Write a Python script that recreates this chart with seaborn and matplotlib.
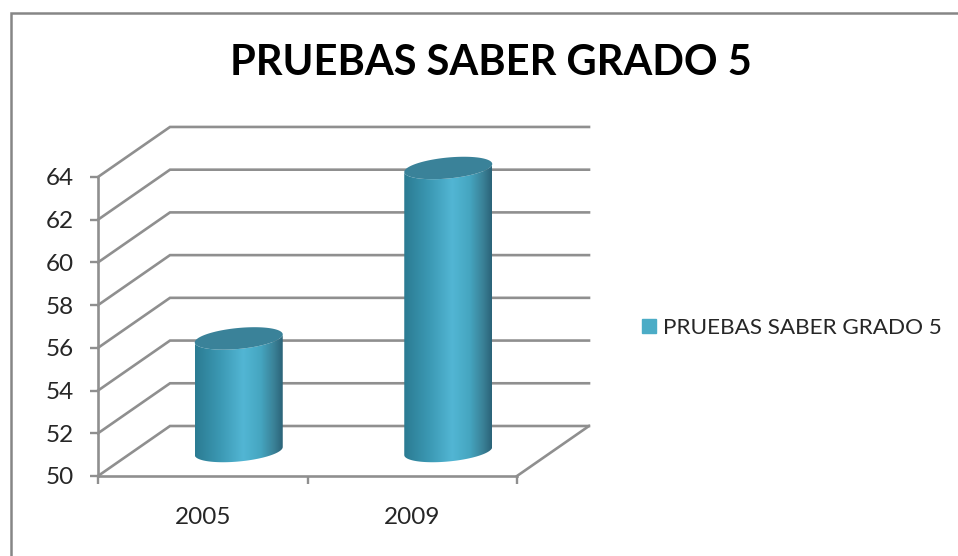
import matplotlib
matplotlib.use('Agg')
import matplotlib.pyplot as plt
import numpy as np
import pandas as pd
import seaborn as sns
from matplotlib.colors import LinearSegmentedColormap
from matplotlib.lines import Line2D
from matplotlib.patches import Patch, PathPatch
from matplotlib.path import Path

TITLE = 'PRUEBAS SABER GRADO 5'
years = ['2005', '2009']
scores = [55.27, 63.25]
y_ticks = [50, 52, 54, 56, 58, 60, 62, 64]

GRID = '#8f8f8f'
TEXT = '#262626'
BAR = '#4bacc6'
TOP = '#3a8299'
shade = LinearSegmentedColormap.from_list('cyl', [
    (0.0, '#2b7b92'), (0.3, '#3c9ab5'), (0.55, '#52b6d4'),
    (0.75, '#45a5c0'), (0.9, '#3a8197'), (1.0, '#2b6378')])

W, H = 958, 556
plt.rcParams['font.family'] = ['Lato', 'DejaVu Sans']

fig = plt.figure(figsize=(W / 100, H / 100), dpi=100)
# plot box in pixels: front corner (98, 476), back wall up to y=127, right to x=590
ax = fig.add_axes([98 / W, 1 - 476 / H, (590 - 98) / W, (476 - 127) / H])
ax.patch.set_alpha(0)

# 3d look: back wall is shifted by this much in data units
dx = 72 / 209.5
dy = 50 / 21.36

df = pd.DataFrame({'year': years, 'score': scores})
sns.barplot(data=df, x='year', y='score', width=0.42, ax=ax, color=BAR)

x0, x1 = -0.5, 1.5
ax.set_xlim(x0, x1 + 73 / 209.5)
ax.set_ylim(50, 50 + 349 / 21.36)

# walls and floor
for v in y_ticks:
    ax.plot([x0, x0 + dx, x1 + dx], [v, v + dy, v + dy], color=GRID, lw=1.9,
            zorder=1, solid_joinstyle='miter', clip_on=False)
ax.plot([x1, x1 + dx], [50, 50 + dy], color=GRID, lw=1.9, zorder=1)

# turn the flat bars into cylinders
grad = shade(np.linspace(0, 1, 256)).reshape(1, 256, 4)
t = np.linspace(0, 2 * np.pi, 120)
for bar in list(ax.patches):
    bar.set_visible(False)
    left, w, value = bar.get_x(), bar.get_width(), bar.get_height()
    cx = left + w / 2 + dx / 2
    base = 50 + dy / 2
    top = value + dy / 2
    rx = w / 2
    tilt = 4 / 21.36
    ry = 10.5 / 21.36
    # side: front half of base ellipse, back along the top ellipse
    t_front = np.linspace(np.pi, 2 * np.pi, 60)
    xs = cx + rx * np.cos(t_front)
    ys = base + tilt * np.cos(t_front) + ry * np.sin(t_front)
    xt = cx + rx * np.cos(t_front[::-1])
    yt = top + tilt * np.cos(t_front[::-1]) + ry * np.sin(t_front[::-1])
    side = Path(np.column_stack([np.r_[xs, xt, xs[0]], np.r_[ys, yt, ys[0]]]), closed=True)
    im = ax.imshow(grad, extent=[cx - rx, cx + rx, 40, 70], aspect='auto', zorder=3,
                   interpolation='bilinear')
    im.set_clip_path(PathPatch(side, transform=ax.transData))
    ax.fill(cx + rx * np.cos(t), top + tilt * np.cos(t) + ry * np.sin(t),
            color=TOP, lw=0, zorder=4)

ax.set_xlim(x0, x1 + 73 / 209.5)
ax.set_ylim(50, 50 + 349 / 21.36)

for side_name in ['top', 'right']:
    ax.spines[side_name].set_visible(False)
for side_name in ['left', 'bottom']:
    ax.spines[side_name].set_color(GRID)
    ax.spines[side_name].set_linewidth(1.9)
ax.spines['left'].set_bounds(50, 64)
ax.spines['bottom'].set_bounds(x0, x1)

ax.set_xlabel('')
ax.set_ylabel('')
ax.set_yticks(y_ticks)
ax.set_xticks([0, 1])
ax.set_xticks([x0, 0.5, x1], minor=True)
ax.tick_params(axis='x', which='major', length=0, pad=22, labelsize=17.5, labelcolor=TEXT)
ax.tick_params(axis='x', which='minor', length=6, width=1.7, color=GRID)
ax.tick_params(axis='y', length=6, width=1.7, color=GRID, pad=11.5, labelsize=17.5, labelcolor=TEXT)

fig.text(490.5 / W, 1 - 63 / H, TITLE, ha='center', va='center', fontsize=30,
         fontweight='bold', color='black')

ax.legend(handles=[Patch(color=BAR, label=TITLE)], loc='center left',
          bbox_to_anchor=(642 / W, 1 - 328 / H), bbox_transform=fig.transFigure,
          frameon=False, fontsize=16.2, handlelength=0.62, handleheight=0.62,
          handletextpad=0.33, borderpad=0, borderaxespad=0, labelcolor=TEXT)

# chart frame, cut off by the screenshot on the right and at the bottom
fig.add_artist(Line2D([10.5 / W, 10.5 / W, 1], [0, 1 - 12.5 / H, 1 - 12.5 / H],
                      color='#868686', lw=1.8, solid_joinstyle='miter'))

fig.savefig('out.png', dpi=100)
